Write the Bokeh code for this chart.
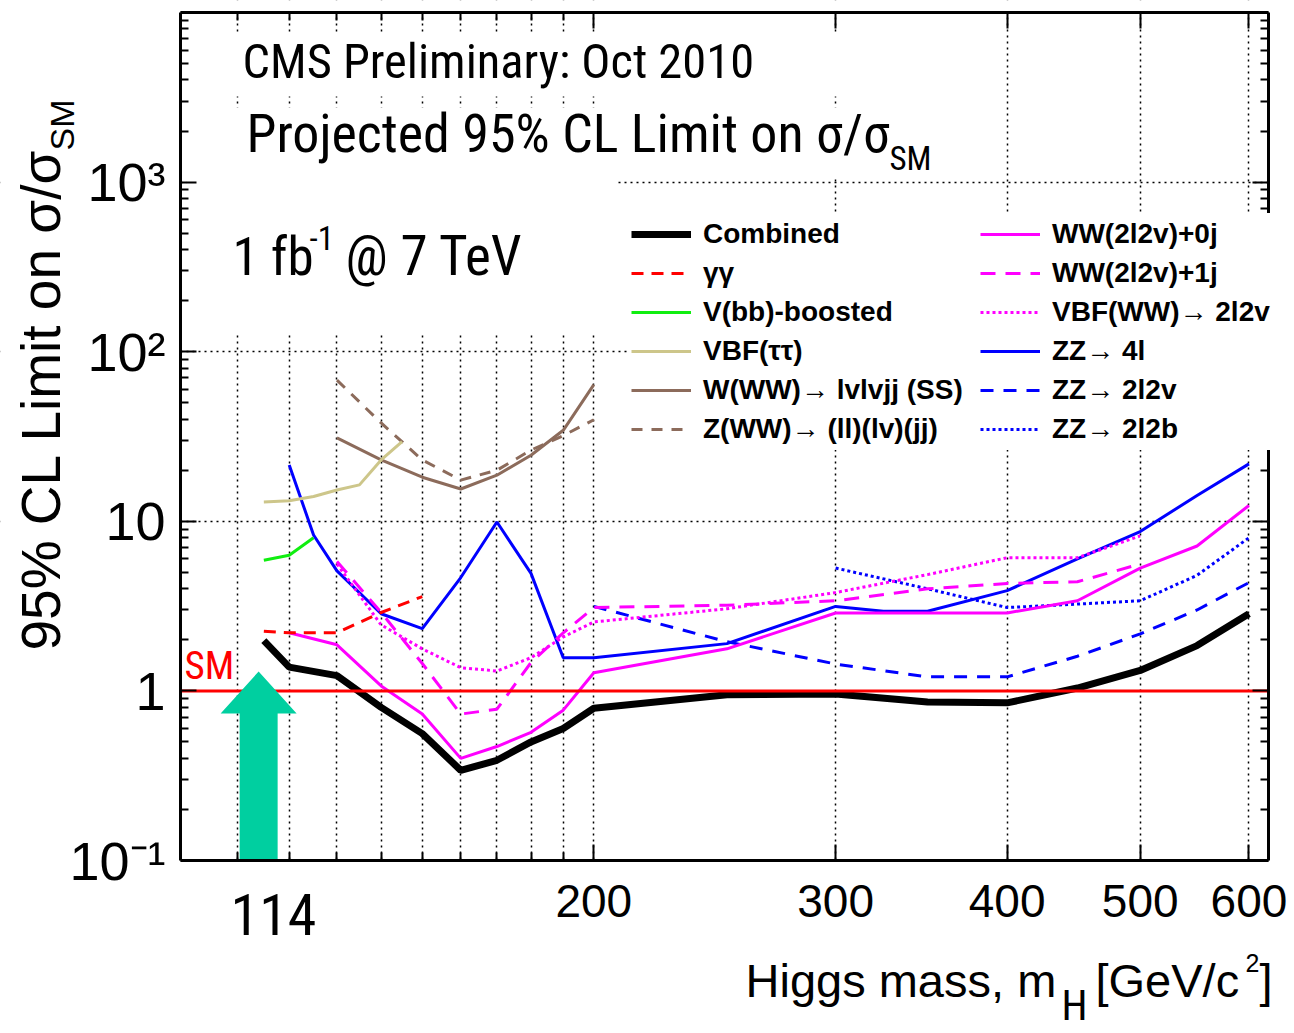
import math

from bokeh.embed import file_html
from bokeh.models import (BoxAnnotation, FixedTicker, Label, Legend, LegendItem,
                          LogAxis, Range1d)
from bokeh.plotting import figure
from bokeh.resources import INLINE

# ---------------------------------------------------------------- data
# Projected 95% CL upper limits on sigma/sigma_SM, 1 fb^-1 at 7 TeV
mass_comb = [115, 120, 130, 140, 150, 160, 170, 180, 190, 200, 250, 300, 350, 400, 450, 500, 550, 600]
lim_comb = [1.98, 1.38, 1.23, 0.80, 0.56, 0.34, 0.39, 0.50, 0.60, 0.79, 0.95, 0.96, 0.86, 0.85, 1.04, 1.32, 1.85, 2.85]

mass_gg = [115, 120, 130, 140, 150]
lim_gg = [2.25, 2.2, 2.2, 2.9, 3.6]

mass_vbb = [115, 120, 125]
lim_vbb = [5.9, 6.3, 8.0]

mass_vbftt = [115, 120, 125, 130, 135, 140, 145]
lim_vbftt = [13.0, 13.2, 14.0, 15.3, 16.4, 23.0, 29.5]

mass_wss = [130, 140, 150, 160, 170, 180, 190, 200]
lim_wss = [31.0, 23.0, 18.2, 15.5, 18.7, 24.5, 34.4, 64.0]

mass_zww = [130, 140, 150, 160, 170, 180, 190, 200]
lim_zww = [68.0, 38.0, 23.0, 17.5, 20.0, 26.3, 32.0, 39.7]

mass_ww0j = [120, 130, 140, 150, 160, 170, 180, 190, 200, 250, 300, 350, 400, 450, 500, 550, 600]
lim_ww0j = [2.2, 1.87, 1.07, 0.73, 0.40, 0.47, 0.57, 0.77, 1.28, 1.77, 2.88, 2.88, 2.88, 3.4, 5.3, 7.15, 12.4]

mass_ww1j = [130, 140, 150, 160, 170, 180, 190, 200, 250, 300, 350, 400, 450, 500]
lim_ww1j = [5.8, 2.9, 1.45, 0.73, 0.78, 1.47, 2.2, 3.1, 3.2, 3.4, 4.0, 4.3, 4.4, 5.6]

mass_vbfww = [130, 140, 150, 160, 170, 180, 190, 200, 250, 300, 350, 400, 450, 500]
lim_vbfww = [5.6, 2.45, 1.77, 1.37, 1.31, 1.57, 2.08, 2.55, 3.05, 3.8, 4.85, 6.1, 6.1, 8.2]

mass_zz4l = [120, 125, 130, 140, 150, 160, 170, 180, 190, 200, 250, 300, 325, 350, 400, 450, 500, 550, 600]
lim_zz4l = [21.5, 8.3, 5.1, 2.85, 2.33, 4.66, 9.9, 4.93, 1.57, 1.57, 1.9, 3.15, 2.95, 2.95, 3.9, 6.0, 8.7, 14.2, 21.8]

mass_zz2l2v = [200, 250, 300, 350, 400, 450, 500, 550, 600]
lim_zz2l2v = [3.15, 1.95, 1.44, 1.21, 1.21, 1.6, 2.17, 3.0, 4.35]

mass_zz2l2b = [300, 350, 400, 450, 500, 550, 600]
lim_zz2l2b = [5.3, 4.0, 3.1, 3.25, 3.4, 4.8, 8.0]

sm_level = 1.0
lep_limit = 114

x_major = [200, 300, 400, 500, 600]
x_minor = [110, 120, 130, 140, 150, 160, 170, 180, 190]
y_major = [0.1, 1, 10, 100, 1000, 10000]
y_labels = {0.1: "10\u207b\u00b9", 1: "1", 10: "10", 100: "10\u00b2", 1000: "10\u00b3", 10000: ""}

# ---------------------------------------------------------------- geometry
W, H = 1294, 1033
FL, FR, FT, FB = 180, 1268, 12, 860          # axes box on the canvas
X_LO, X_HI = 100, 620
Y_LO, Y_HI = 0.1, 1e4
LX0, LX1 = math.log10(X_LO), math.log10(X_HI)
LY0, LY1 = math.log10(Y_LO), math.log10(Y_HI)
KX = (LX1 - LX0) / (FR - FL)
KY = (LY1 - LY0) / (FB - FT)


def dx(px):
    """canvas column -> mass"""
    return 10 ** (LX0 + (px - FL) * KX)


def dy(py):
    """canvas row -> limit"""
    return 10 ** (LY1 - (py - FT) * KY)


def px_x(v):
    return FL + (math.log10(v) - LX0) / KX


REG = "'Liberation Sans', Arial, Helvetica, sans-serif"
COND = "'Roboto Condensed', 'Liberation Sans', Arial, sans-serif"

# the drawing area covers the whole canvas; the axes sit on the box edges
p = figure(width=W, height=H, x_axis_type="log", y_axis_type="log",
           x_range=Range1d(dx(0), dx(W)), y_range=Range1d(dy(H), dy(0)),
           output_backend="svg", toolbar_location=None,
           min_border_left=0, min_border_right=0, min_border_top=0, min_border_bottom=0,
           background_fill_color="white", border_fill_color="white")
p.outline_line_color = None

yminor = [m * 10 ** d for d in range(-1, 4) for m in range(2, 10)]


def style_axis(ax, ticker, loc, bounds, labels=True):
    ax.ticker = ticker
    ax.fixed_location = loc
    ax.bounds = bounds
    ax.axis_line_color = "black"
    ax.axis_line_width = 3
    ax.major_tick_line_color = "black"
    ax.major_tick_line_width = 2
    ax.minor_tick_line_color = "black"
    ax.minor_tick_line_width = 2
    ax.major_tick_in = 16
    ax.major_tick_out = 0
    ax.minor_tick_in = 8
    ax.minor_tick_out = 0
    ax.major_label_text_color = "black"
    if not labels:
        ax.major_label_text_font_size = "0px"
        ax.major_label_standoff = 0
        ax.major_label_overrides = {t: "" for t in ticker.ticks}


xax = p.xaxis[0]
style_axis(xax, FixedTicker(ticks=x_major, minor_ticks=x_minor), Y_LO, (X_LO, X_HI))
xax.major_label_overrides = {t: str(t) for t in x_major}
xax.major_label_text_font = REG
xax.major_label_text_font_size = "46px"
xax.major_label_standoff = 24

yax = p.yaxis[0]
style_axis(yax, FixedTicker(ticks=y_major, minor_ticks=yminor), X_LO, (Y_LO, Y_HI))
yax.major_label_overrides = y_labels
yax.major_label_text_font = REG
yax.major_label_text_font_size = "54px"
yax.major_label_standoff = 15

top_ax = LogAxis()
style_axis(top_ax, FixedTicker(ticks=x_major, minor_ticks=x_minor), Y_HI, (X_LO, X_HI), labels=False)
p.add_layout(top_ax, "above")
right_ax = LogAxis()
style_axis(right_ax, FixedTicker(ticks=y_major, minor_ticks=yminor), X_HI, (Y_LO, Y_HI), labels=False)
p.add_layout(right_ax, "right")

xg, yg = p.xgrid[0], p.ygrid[0]
xg.axis = None
yg.axis = None
xg.ticker = FixedTicker(ticks=x_major, minor_ticks=x_minor)
yg.ticker = FixedTicker(ticks=[10, 100, 1000])
for g in (xg, yg):
    g.level = "image"
    g.grid_line_color = "black"
    g.grid_line_width = 1.5
    g.grid_line_dash = "2 4"
xg.minor_grid_line_color = "black"
xg.minor_grid_line_width = 1.5
xg.minor_grid_line_dash = "2 4"


def blank(left, right, top, bottom):
    p.add_layout(BoxAnnotation(left=left, right=right, top=top, bottom=bottom,
                               fill_color="white", fill_alpha=1.0, line_alpha=0,
                               level="underlay"))


# keep the grid inside the axes box
blank(dx(0), X_LO, dy(0), dy(H))
blank(X_HI, dx(W), dy(0), dy(H))
blank(dx(0), dx(W), dy(0), Y_HI)
blank(dx(0), dx(W), Y_LO, dy(H))
# white text panes over the grid behind the captions
blank(dx(186), dx(950), dy(33), dy(96))
blank(dx(186), dx(950), dy(107), dy(176))
blank(dx(186), dx(617), dy(176), dy(334))

# ---------------------------------------------------------------- curves
BROWN = "#8c6b5b"
series = [
    ("Combined", mass_comb, lim_comb, dict(line_color="black", line_width=7)),
    ("\u03b3\u03b3", mass_gg, lim_gg, dict(line_color="#ff0000", line_width=3, line_dash="12 8")),
    ("V(bb)-boosted", mass_vbb, lim_vbb, dict(line_color="#10ee10", line_width=3)),
    ("VBF(\u03c4\u03c4)", mass_vbftt, lim_vbftt, dict(line_color="#cdc68a", line_width=3)),
    ("W(WW)\u2192 lvlvjj (SS)", mass_wss, lim_wss, dict(line_color=BROWN, line_width=3)),
    ("Z(WW)\u2192 (ll)(lv)(jj)", mass_zww, lim_zww, dict(line_color=BROWN, line_width=3, line_dash="11 9")),
    ("WW(2l2v)+0j", mass_ww0j, lim_ww0j, dict(line_color="#ff00ff", line_width=3)),
    ("WW(2l2v)+1j", mass_ww1j, lim_ww1j, dict(line_color="#ff00ff", line_width=3, line_dash="15 10")),
    ("VBF(WW)\u2192 2l2v", mass_vbfww, lim_vbfww, dict(line_color="#ff00ff", line_width=3, line_dash="3 3")),
    ("ZZ\u2192 4l", mass_zz4l, lim_zz4l, dict(line_color="#0000ff", line_width=3)),
    ("ZZ\u2192 2l2v", mass_zz2l2v, lim_zz2l2v, dict(line_color="#0000ff", line_width=3, line_dash="13 10")),
    ("ZZ\u2192 2l2b", mass_zz2l2b, lim_zz2l2b, dict(line_color="#0000ff", line_width=3, line_dash="3 3")),
]

items = []
for name, xs, ys, kw in reversed(series):
    r = p.line(xs, ys, **kw)
    items.append(LegendItem(label=name, renderers=[r]))
items.reverse()

# SM reference line across the mass range
p.line([X_LO, X_HI], [sm_level, sm_level], line_color="#ff0000", line_width=3)

# arrow at the LEP limit
cx = px_x(lep_limit)
ax_px = [cx - 19, cx - 19, cx - 38, cx, cx + 38, cx + 19, cx + 19]
ay_px = [FB, 713, 713, 671, 713, 713, FB]
p.patch([dx(v) for v in ax_px], [dy(v) for v in ay_px],
        fill_color="#00cfa0", line_color=None)

legend = Legend(items=items, ncols=2, orientation="vertical",
                location=(629, H - 450), margin=0, padding=2, spacing=1,
                glyph_width=60, glyph_height=38, label_height=38, label_width=276,
                label_standoff=12,
                label_text_font=REG, label_text_font_size="28px",
                label_text_font_style="bold", label_text_color="black",
                border_line_alpha=0, background_fill_color="white",
                background_fill_alpha=1.0)
p.add_layout(legend)

# ---------------------------------------------------------------- texts
DROP = 0.37   # baseline shift of the label box, in units of font size


def text(px, py, s, size, font=COND, color="black", align="left", rotated=False):
    if rotated:
        x, y, ang = px - DROP * size, py, math.pi / 2
    else:
        x, y, ang = px, py - DROP * size, 0.0
    p.add_layout(Label(x=dx(x), y=dy(y), text=s, text_font=font,
                       text_font_size=f"{size}px", text_color=color,
                       text_align=align, text_baseline="alphabetic", angle=ang))


text(242, 79, "CMS Preliminary: Oct 2010", 48.5)
text(246, 153, "Projected 95% CL Limit on \u03c3/\u03c3", 54)
text(889, 170, "SM", 33)
text(232, 276, "1 fb", 53)
text(309, 250, "-1", 33)
text(345, 276, "@ 7 TeV", 55)
text(184, 680, "SM", 39, color="#ff0000")
text(273, 935, "114", 58, align="center")

# y axis title, rotated
text(61, 650, "95% CL Limit on \u03c3/\u03c3", 55, font=REG, rotated=True)
text(74, 150, "SM", 34, font=REG, rotated=True)

# x axis title
text(745, 997, "Higgs mass, m", 47, font=REG)
text(1061, 1021, "H", 42)
text(1095, 997, "[GeV/c", 47, font=REG)
text(1245, 972, "2", 25, font=REG)
text(1259, 997, "]", 47, font=REG)

open("out.html", "w").write(file_html(p, INLINE))
